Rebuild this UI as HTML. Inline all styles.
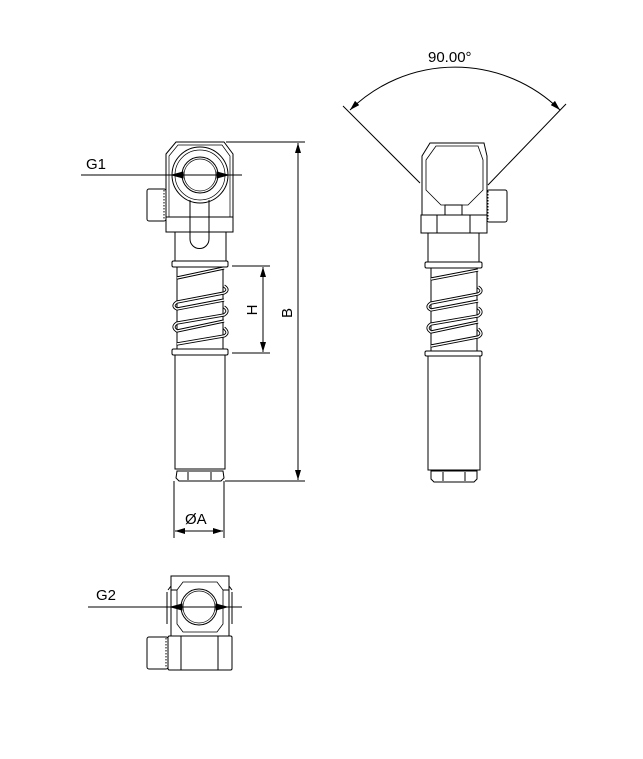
<!DOCTYPE html>
<html><head><meta charset="utf-8"><style>
html,body{margin:0;padding:0;background:#fff;}
svg{display:block;}
text{font-family:"Liberation Sans",Arial,sans-serif;font-size:15px;fill:#000;}
</style></head><body>
<svg width="643" height="759" viewBox="0 0 643 759" xmlns="http://www.w3.org/2000/svg">
<defs>
<marker id="ar" viewBox="0 0 10 6" refX="10" refY="3" markerWidth="10" markerHeight="6" orient="auto-start-reverse" markerUnits="userSpaceOnUse">
<path d="M0,0 L10,3 L0,6 z" fill="#000"/></marker>
</defs>
<g fill="none" stroke="#000" stroke-width="1">
<!-- LEFT VIEW -->
<path d="M166,154 L176,142 L224,142 L233,154 L233,232 L166,232 Z"/>
<path d="M169,156 L178,145 L222,145 L230,156 L230,217 L169,217 Z" stroke-width="0.7"/>
<line x1="166" y1="217" x2="233" y2="217"/>
<rect x="147" y="189" width="19" height="32" rx="2"/>
<line x1="164" y1="190" x2="164" y2="220" stroke-dasharray="1.5,1.5"/>
<circle cx="200" cy="175" r="28"/>
<circle cx="200" cy="175" r="25" stroke-width="0.7"/>
<circle cx="200" cy="175" r="18"/>
<circle cx="200" cy="175" r="16" stroke-width="0.7"/>
<path d="M190,200 L190,239 A9.5,9.5 0 0 0 209,239 L209,200"/>
<rect x="175" y="232" width="51" height="29"/>
<rect x="172" y="261" width="56" height="6" rx="1.5"/>
<rect x="172" y="349" width="56" height="6" rx="1.5"/>
<line x1="177" y1="267" x2="177" y2="349"/>
<line x1="223" y1="267" x2="223" y2="349"/>
<g stroke-width="3.2">
<path d="M177,278 L224,268 M224,286 Q230,290 224,293 L177,302 Q171,306 177,309 L224,300 M224,307 Q230,311 224,315 L177,323 Q171,327 177,331 L224,321 M224,328 Q230,333 224,336 L177,344"/>
</g>
<g stroke-width="1.4" stroke="#fff">
<path d="M177,278 L224,268 M224,286 Q230,290 224,293 L177,302 Q171,306 177,309 L224,300 M224,307 Q230,311 224,315 L177,323 Q171,327 177,331 L224,321 M224,328 Q230,333 224,336 L177,344"/>
</g>
<path d="M175,355 L175,469 L225,469 L225,355"/>
<path d="M177,471 L223,471 L224,478 L221,481 L179,481 L176,478 Z"/>
<line x1="188" y1="472" x2="188" y2="480"/><line x1="211" y1="472" x2="211" y2="480"/>
<!-- dims left -->
<line x1="81" y1="175" x2="242" y2="175"/>
<path d="M172,175 L183,172 L183,178 Z M228,175 L217,172 L217,178 Z" fill="#000"/>
<line x1="226" y1="142" x2="305" y2="142"/>
<line x1="225" y1="481" x2="305" y2="481"/>
<line x1="298" y1="143" x2="298" y2="480" marker-start="url(#ar)" marker-end="url(#ar)"/>
<line x1="232" y1="266" x2="270" y2="266"/>
<line x1="232" y1="353" x2="270" y2="353"/>
<line x1="263" y1="267" x2="263" y2="352" marker-start="url(#ar)" marker-end="url(#ar)"/>
<line x1="174" y1="481" x2="174" y2="538"/>
<line x1="224" y1="481" x2="224" y2="538"/>
<line x1="175" y1="531" x2="223" y2="531" marker-start="url(#ar)" marker-end="url(#ar)"/>
<!-- RIGHT VIEW -->
<path d="M422,156 L430,143 L484,143 L487,156 L487,215 L422,215 Z"/>
<path d="M426,160 L436,146 L478,146 L483,160 L483,190 L468,205 L441,205 L426,190 Z" stroke-width="0.8"/>
<rect x="445" y="205" width="17" height="10"/>
<rect x="421" y="215" width="66" height="18"/>
<line x1="437" y1="215" x2="437" y2="233"/><line x1="470" y1="215" x2="470" y2="233"/>
<rect x="487" y="190" width="20" height="32" rx="2"/>
<line x1="488" y1="191" x2="488" y2="221" stroke-dasharray="1.5,1.5"/>
<rect x="428" y="233" width="51" height="29"/>
<rect x="425" y="262" width="57" height="6" rx="1.5"/>
<rect x="425" y="351" width="57" height="5" rx="1.5"/>
<line x1="431" y1="268" x2="431" y2="351"/><line x1="477" y1="268" x2="477" y2="351"/>
<g stroke-width="3.2">
<path d="M431,279 L478,270 M478,287 Q484,291 478,294 L431,303 Q425,307 431,310 L478,301 M478,308 Q484,312 478,316 L431,324 Q425,328 431,332 L478,322 M478,329 Q484,334 478,337 L431,346"/>
</g>
<g stroke-width="1.4" stroke="#fff">
<path d="M431,279 L478,270 M478,287 Q484,291 478,294 L431,303 Q425,307 431,310 L478,301 M478,308 Q484,312 478,316 L431,324 Q425,328 431,332 L478,322 M478,329 Q484,334 478,337 L431,346"/>
</g>
<path d="M428,356 L428,470 L480,470 L480,356"/>
<path d="M431,471 L477,471 L477,479 L474,482 L434,482 L431,479 Z"/>
<line x1="443" y1="472" x2="443" y2="481"/><line x1="465" y1="472" x2="465" y2="481"/>
<!-- angle dim -->
<line x1="343" y1="106" x2="420" y2="183"/>
<line x1="566" y1="104" x2="488" y2="185"/>
<path d="M350,110 A150,150 0 0 1 560,110" marker-start="url(#ar)" marker-end="url(#ar)"/>
<!-- BOTTOM VIEW -->
<rect x="171" y="576" width="58" height="60"/>
<path d="M177,590 L183,582 L217,582 L223,590 L223,624 L217,632 L183,632 L177,624 Z" stroke-width="0.8"/>
<line x1="171" y1="590" x2="177" y2="590"/><line x1="223" y1="590" x2="229" y2="590"/>
<circle cx="199" cy="607" r="18"/>
<circle cx="199" cy="607" r="16" stroke-width="0.7"/>
<path d="M168,590 L171,586 M232,590 L229,586"/>
<line x1="167" y1="592" x2="167" y2="624"/><line x1="232" y1="592" x2="232" y2="624"/>
<rect x="168" y="636" width="64" height="34" rx="1.5"/>
<line x1="181" y1="636" x2="181" y2="670"/><line x1="218" y1="636" x2="218" y2="670"/>
<rect x="147" y="637" width="21" height="32" rx="2"/>
<line x1="166" y1="638" x2="166" y2="668" stroke-dasharray="1.5,1.5"/>
<line x1="88" y1="607" x2="242" y2="607"/>
<path d="M171,607 L182,604 L182,610 Z M227,607 L216,604 L216,610 Z" fill="#000"/>
</g>
<text x="86" y="169">G1</text>
<text x="96" y="600">G2</text>
<text x="185" y="524">ØA</text>
<text x="428" y="62">90.00°</text>
<text transform="translate(257,310) rotate(-90)" text-anchor="middle">H</text>
<text transform="translate(292,313) rotate(-90)" text-anchor="middle">B</text>
</svg>
</body></html>
